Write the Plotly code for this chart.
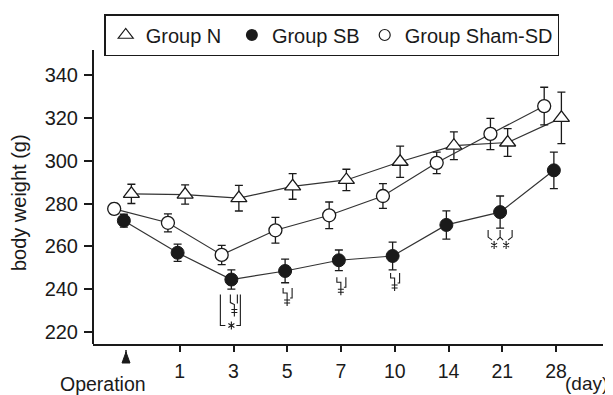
import plotly.graph_objects as go

# ---------------- data ----------------
days = ["Operation", "1", "3", "5", "7", "10", "14", "21", "28"]
tick_labels = ["1", "3", "5", "7", "10", "14", "21", "28"]
y_ticks = [220, 240, 260, 280, 300, 320, 340]

group_n = [284.5, 284.2, 282.5, 288.0, 291.0, 299.5, 307.0, 308.5, 320.0]
group_n_err = [4.5, 4.5, 6.0, 6.0, 5.0, 7.3, 6.5, 6.5, 12.0]
group_sb = [272.0, 257.0, 244.5, 248.5, 253.5, 255.5, 270.0, 276.0, 295.5]
group_sb_err = [3.0, 4.0, 4.5, 5.5, 4.8, 6.5, 6.6, 7.5, 8.5]
group_sham = [277.5, 271.0, 256.0, 267.5, 274.5, 283.5, 299.0, 312.5, 325.5]
group_sham_err = [2.5, 4.2, 4.5, 6.0, 6.2, 5.8, 5.0, 7.3, 8.8]

sig_days = ["3", "5", "7", "10", "21"]
sig_kind = ["bracket", "dagger", "dagger", "dagger", "double_star"]

# ---------------- style ----------------
FONT = "Liberation Sans, Arial, sans-serif"
INK = "#1a1a1a"
LINE = "#333333"
N_DX, SB_DX, SHAM_DX = 0.10, -0.04, -0.22
Y_AXIS_MIN, Y_AXIS_TOP, Y_VIEW_TOP = 214.4, 351.7, 368.5
PAGE_MARGIN = 8  # default body margin of the html page

idx = list(range(len(days)))


def shifted(dx):
    return [i + dx for i in idx]


err_style = dict(type="data", color=INK, thickness=1.3, width=4, visible=True)

fig = go.Figure()

fig.add_trace(go.Scatter(
    x=shifted(N_DX), y=group_n, mode="lines+markers", showlegend=False,
    line=dict(color=LINE, width=1.2),
    marker=dict(symbol="triangle-up", size=14, color="white", line=dict(color=INK, width=1.3)),
    error_y=dict(array=group_n_err, **err_style)))

fig.add_trace(go.Scatter(
    x=shifted(SHAM_DX), y=group_sham, mode="lines+markers", showlegend=False,
    line=dict(color=LINE, width=1.2),
    marker=dict(symbol="circle", size=13, color="white", line=dict(color=INK, width=1.3)),
    error_y=dict(array=group_sham_err, **err_style)))

fig.add_trace(go.Scatter(
    x=shifted(SB_DX), y=group_sb, mode="lines+markers", showlegend=False,
    line=dict(color=LINE, width=1.2),
    marker=dict(symbol="circle", size=13, color=INK, line=dict(color=INK, width=1)),
    error_y=dict(array=group_sb_err, **err_style)))

# legend entries (markers only, as in the original)
fig.add_trace(go.Scatter(x=[None], y=[None], mode="markers", name="Group N\u00a0",
                         marker=dict(symbol="triangle-up", size=13, color="white",
                                     line=dict(color=INK, width=1.2))))
fig.add_trace(go.Scatter(x=[None], y=[None], mode="markers", name="Group SB",
                         marker=dict(symbol="circle", size=12, color=INK)))
fig.add_trace(go.Scatter(x=[None], y=[None], mode="markers", name="Group Sham-SD",
                         marker=dict(symbol="circle", size=11, color="white",
                                     line=dict(color=INK, width=1.2))))

# ---------------- significance marks (pixel paths anchored on SB points) ----------------
paths = {
    "dagger": "M -2,-17 V -22 H 2 V -35 M -1,-29 H 5 M -1,-32 H 5 M 7,-17 V -27 H 5",
    "bracket": ("M -6,-46 H -11 V -15 M 5,-46 H 9 V -15 "
                "M -1,-15 V -23 L 3,-25 V -37 M 0,-30 H 6 M 0,-33 H 6 M 6,-15 V -24 "
                "M 0,-42 V -50 M -3,-44 L 3,-48 M -3,-48 L 3,-44"),
    "double_star": ("M -12,-18 V -25 L -8,-28 M 12,-18 V -25 L 8,-28 "
                    "M 0,-18 V -25 L -3,-28 M 0,-25 L 3,-28 "
                    "M -6,-29 V -37 M -9,-31 L -3,-35 M -9,-35 L -3,-31 "
                    "M 6,-29 V -37 M 3,-31 L 9,-35 M 3,-35 L 9,-31"),
}
shapes = []
for d, kind in zip(sig_days, sig_kind):
    k = days.index(d)
    shapes.append(dict(type="path", xref="x", yref="y",
                       xsizemode="pixel", ysizemode="pixel",
                       xanchor=k + SB_DX, yanchor=group_sb[k],
                       path=paths[kind], line=dict(color=INK, width=1.1)))

# y axis line (stops below the legend box, as in the original)
shapes.append(dict(type="line", xref="paper", yref="y", x0=0, x1=0,
                   y0=Y_AXIS_MIN, y1=Y_AXIS_TOP, line=dict(color=INK, width=2)))

# operation arrow below the x axis
shapes.append(dict(type="path", xref="x", yref="paper", xsizemode="pixel", ysizemode="pixel",
                   xanchor=days.index("Operation"), yanchor=0,
                   path="M -4,-19 L 0,-8 L 4,-19 Z", fillcolor=INK, line=dict(color=INK, width=1)))
shapes.append(dict(type="path", xref="x", yref="paper", xsizemode="pixel", ysizemode="pixel",
                   xanchor=days.index("Operation"), yanchor=0,
                   path="M 0,-6 V -10", line=dict(color=INK, width=1.5)))

annotations = [
    dict(text="Operation", x=days.index("Operation"), xref="x", y=0, yref="paper",
         xanchor="center", yanchor="top", xshift=-23, yshift=-27, showarrow=False,
         font=dict(size=19.5, color=INK, family=FONT)),
    dict(text="(day)", x=1, xref="paper", y=0, yref="paper", xanchor="right",
         yanchor="top", xshift=7, yshift=-27, showarrow=False,
         font=dict(size=19, color=INK, family=FONT)),
    dict(text="body weight (g)", x=0, xref="paper", y=0.427, yref="paper", textangle=-90,
         xanchor="center", yanchor="middle", xshift=-74, showarrow=False,
         font=dict(size=20, color=INK, family=FONT)),
]

fig.update_layout(
    width=613 - PAGE_MARGIN, height=395 - PAGE_MARGIN,
    margin=dict(l=93 - PAGE_MARGIN, r=10, t=14 - PAGE_MARGIN, b=51),
    paper_bgcolor="white", plot_bgcolor="white",
    font=dict(family=FONT, color=INK, size=18),
    shapes=shapes, annotations=annotations,
    legend=dict(orientation="h", x=0.022, y=1.0, xanchor="left", yanchor="top",
                bgcolor="white", bordercolor=INK, borderwidth=1.5,
                font=dict(size=20, family=FONT, color=INK)),
    xaxis=dict(range=[-0.614, 8.874], tickmode="array", tickvals=idx[1:], ticktext=tick_labels,
               ticks="outside", ticklen=6, tickwidth=1.5, tickcolor=INK,
               showline=True, linewidth=2, linecolor=INK, showgrid=False, zeroline=False,
               tickfont=dict(size=19.5), ticklabelstandoff=3),
    yaxis=dict(range=[Y_AXIS_MIN, Y_VIEW_TOP], tickmode="array", tickvals=y_ticks,
               ticks="outside", ticklen=8, tickwidth=1.5, tickcolor=INK,
               showline=False, showgrid=False, zeroline=False,
               tickfont=dict(size=20), ticklabelstandoff=2),
)

fig.write_html("out.html")
